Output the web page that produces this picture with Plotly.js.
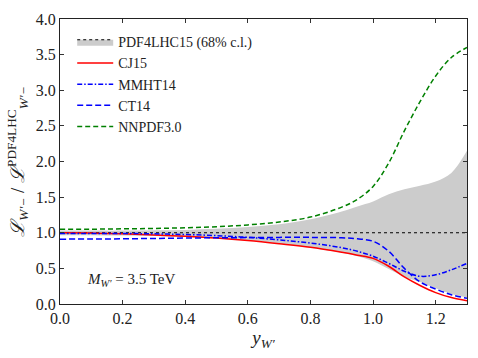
<!DOCTYPE html>
<html>
<head>
<meta charset="utf-8">
<script src="https://cdn.plot.ly/plotly-3.0.1.min.js"></script>
<style>
  body { margin: 0; background: #fff; }
  #chart { width: 478px; height: 358px; }
</style>
</head>
<body>
<div id="chart"></div>
<script>
// rapidity grid
const yW = [0, 0.1, 0.2, 0.3, 0.4, 0.5, 0.6, 0.7, 0.8, 0.9, 0.95, 1.0, 1.05, 1.1, 1.15, 1.2, 1.25, 1.3];

// PDF4LHC15 68% band and central value
const pdf4lhcUpper = [1.03, 1.03, 1.03, 1.035, 1.04, 1.055, 1.08, 1.12, 1.19, 1.3, 1.37, 1.44, 1.54, 1.61, 1.66, 1.72, 1.84, 2.15];
const pdf4lhcLower = [0.965, 0.965, 0.96, 0.955, 0.94, 0.92, 0.89, 0.85, 0.79, 0.72, 0.67, 0.6, 0.49, 0.38, 0.31, 0.22, 0.14, 0.09];
const pdf4lhcCentral = yW.map(() => 1.0);

// ratios to PDF4LHC
const cj15 = [1.0, 0.995, 0.985, 0.97, 0.95, 0.925, 0.89, 0.845, 0.795, 0.725, 0.685, 0.64, 0.53, 0.38, 0.26, 0.16, 0.09, 0.045];
const mmht14 = [0.99, 0.99, 0.99, 0.985, 0.975, 0.96, 0.935, 0.9, 0.855, 0.79, 0.74, 0.67, 0.57, 0.46, 0.39, 0.41, 0.48, 0.57];
const ct14 = [0.91, 0.912, 0.915, 0.92, 0.925, 0.93, 0.932, 0.935, 0.935, 0.93, 0.915, 0.88, 0.74, 0.5, 0.31, 0.21, 0.13, 0.08];
const nnpdf30 = [1.05, 1.05, 1.055, 1.06, 1.07, 1.085, 1.11, 1.15, 1.22, 1.36, 1.47, 1.65, 1.98, 2.43, 2.84, 3.2, 3.46, 3.6];

const serif = '"Liberation Serif", "DejaVu Serif", serif';

const traces = [
    // band
    { x: yW, y: pdf4lhcLower, mode: 'lines', line: {width: 0, shape: 'spline'}, showlegend: false, hoverinfo: 'skip' },
    { x: yW, y: pdf4lhcUpper, mode: 'lines', line: {width: 0, shape: 'spline'}, fill: 'tonexty',
      fillcolor: '#cccccc', showlegend: false, hoverinfo: 'skip' },
    // zero-area fill so the legend gets grey box + dotted line
    { x: yW, y: pdf4lhcCentral, mode: 'lines', line: {width: 0}, showlegend: false, hoverinfo: 'skip' },
    { x: yW, y: pdf4lhcCentral, mode: 'lines', name: 'PDF4LHC15 (68% c.l.)', fill: 'tonexty',
      fillcolor: '#cccccc', line: {color: 'black', width: 1.2, dash: 'dot'} },
    { x: yW, y: cj15, mode: 'lines', name: 'CJ15', line: {color: 'red', width: 1.5, shape: 'spline'} },
    { x: yW, y: mmht14, mode: 'lines', name: 'MMHT14', line: {color: 'blue', width: 1.5, dash: '5px,2px,1.5px,2px', shape: 'spline'} },
    { x: yW, y: ct14, mode: 'lines', name: 'CT14', line: {color: 'blue', width: 1.5, dash: '6px,3px', shape: 'spline'} },
    { x: yW, y: nnpdf30, mode: 'lines', name: 'NNPDF3.0', line: {color: 'green', width: 1.5, dash: '5px,3px', shape: 'spline'} }
];

const layout = {
    width: 478,
    height: 358,
    margin: {l: 60, r: 11, t: 19, b: 54},
    paper_bgcolor: 'white',
    plot_bgcolor: 'white',
    font: {family: serif, size: 16, color: '#222'},
    showlegend: true,
    legend: {
        x: 0.03, y: 0.975, xanchor: 'left', yanchor: 'top',
        traceorder: 'normal', itemwidth: 36,
        bgcolor: 'rgba(0,0,0,0)', font: {family: serif, size: 14, color: '#222'},
        tracegroupgap: 0
    },
    xaxis: {
        range: [0, 1.3],
        tickvals: [0, 0.2, 0.4, 0.6, 0.8, 1.0, 1.2],
        tickformat: '.1f',
        ticks: 'inside', ticklen: 4, tickcolor: '#333',
        showline: true, linecolor: '#222', linewidth: 1, mirror: 'ticks',
        showgrid: false, zeroline: false,
        title: {text: '<i>y</i><sub><i>W′</i></sub>', font: {family: serif, size: 19}, standoff: 4}
    },
    yaxis: {
        range: [0, 4.0],
        tickvals: [0, 0.5, 1.0, 1.5, 2.0, 2.5, 3.0, 3.5, 4.0],
        tickformat: '.1f',
        ticks: 'inside', ticklen: 4, tickcolor: '#333',
        showline: true, linecolor: '#222', linewidth: 1, mirror: 'ticks',
        showgrid: false, zeroline: false,
        title: {text: '<i>ℒ</i><sub><i>W′−</i></sub> / <i>ℒ</i><sup>PDF4LHC</sup><sub><i>W′−</i></sub>',
                font: {family: serif, size: 19}, standoff: 6}
    },
    annotations: [{
        xref: 'x', yref: 'y', x: 0.08, y: 0.34, xanchor: 'left', yanchor: 'middle',
        text: '<i>M</i><sub><i>W′</i></sub> = 3.5 TeV', showarrow: false,
        font: {family: serif, size: 15, color: '#222'}
    }]
};

Plotly.newPlot('chart', traces, layout, {displayModeBar: false, staticPlot: true});
</script>
</body>
</html>
